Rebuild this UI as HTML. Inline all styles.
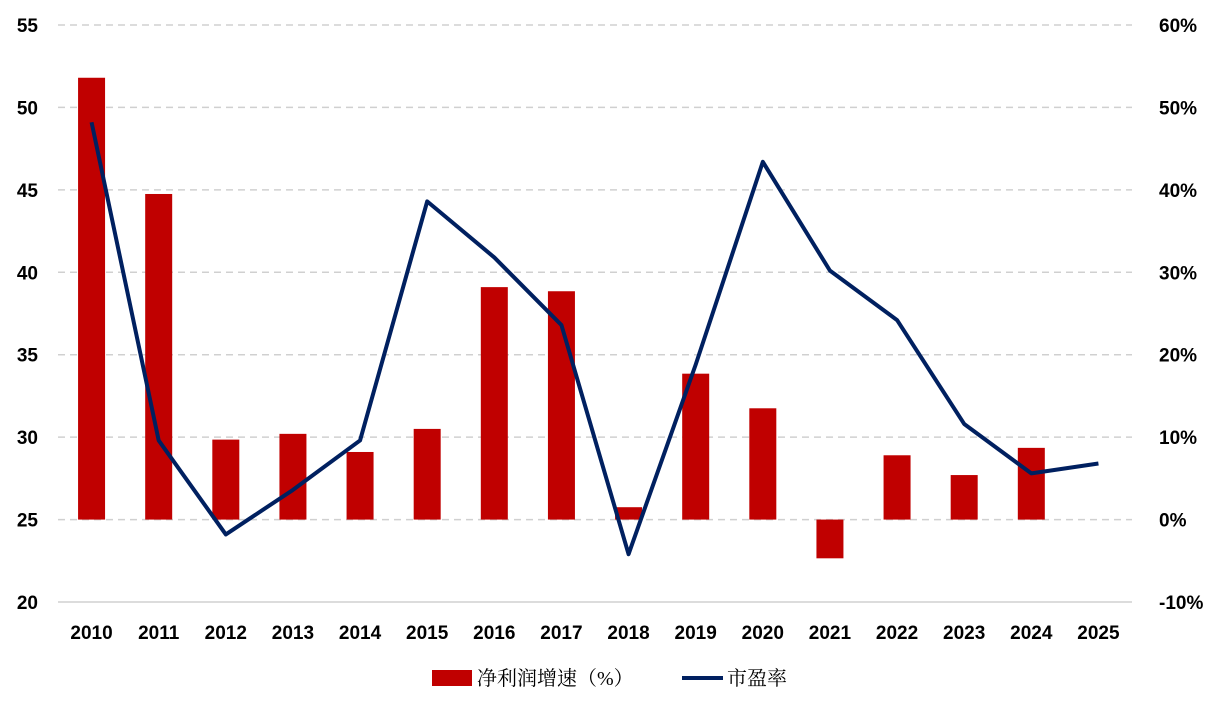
<!DOCTYPE html>
<html><head><meta charset="utf-8"><style>
body{margin:0;background:#fff;width:1220px;height:711px;overflow:hidden}
svg text{font-family:"Liberation Sans","DejaVu Sans",sans-serif;font-weight:bold;font-size:19px;fill:#000}
</style></head><body>
<svg id="chart" width="1220" height="711" xmlns="http://www.w3.org/2000/svg">
<g id="grid"></g>
<g id="bars"></g>
<g id="line"></g>
<g id="axes"></g>
<g>
<rect x="432" y="670" width="40" height="16" fill="#C00000"/>
<text x="477" y="685" style="font-family:'Liberation Serif','Noto Serif CJK SC',serif;font-weight:normal;font-size:20px">净利润增速（%）</text>
<line x1="682" y1="678" x2="723" y2="678" stroke="#002060" stroke-width="4"/>
<text x="727" y="685" style="font-family:'Liberation Serif','Noto Serif CJK SC',serif;font-weight:normal;font-size:20px">市盈率</text>
</g>
</svg>
<script>
const categories=["2010","2011","2012","2013","2014","2015","2016","2017","2018","2019","2020","2021","2022","2023","2024","2025"];
const growth=[53.6,39.5,9.7,10.4,8.2,11.0,28.2,27.7,1.5,17.7,13.5,-4.7,7.8,5.4,8.7,null];
const pe=[49.1,29.8,24.1,26.8,29.8,44.3,40.9,36.8,22.9,34.4,46.7,40.1,37.1,30.8,27.8,28.4];
const leftTicks=[20,25,30,35,40,45,50,55];
const rightTicks=["-10%","0%","10%","20%","30%","40%","50%","60%"];
const NS="http://www.w3.org/2000/svg";
const X0=58,X1=1132,Y0=602,Y1=25;
const step=(X1-X0)/categories.length;
const xc=i=>X0+step*(i+0.5);
const yL=v=>Y0-(v-20)/35*(Y0-Y1);
const yR=v=>Y0-(v+10)/70*(Y0-Y1);
function mk(t,a,p){const e=document.createElementNS(NS,t);for(const k in a)e.setAttribute(k,a[k]);p.appendChild(e);return e;}
const grid=document.getElementById('grid'),axes=document.getElementById('axes'),bars=document.getElementById('bars'),line=document.getElementById('line');
leftTicks.forEach((v,i)=>{
 const y=yL(v);
 const g=mk('line',{x1:X0,x2:X1,y1:y,y2:y,stroke:'#d0d0d0','stroke-width':1.5,'stroke-dasharray':i==0?'':'7,5'},grid);
 
 
 const t=mk('text',{x:38,y:y+7,'text-anchor':'end'},axes);t.textContent=v;
 
 
 const r=mk('text',{x:1159,y:y+7},axes);r.textContent=rightTicks[i];
 
 
});
categories.forEach((c,i)=>{
 const t=mk('text',{x:xc(i),y:639,'text-anchor':'middle'},axes);t.textContent=c;
 
 
 if(growth[i]!=null){
  const y0=yR(0),y=yR(growth[i]);
  const b=mk('rect',{x:xc(i)-13.5,width:27,y:Math.min(y,y0),height:Math.abs(y0-y),fill:'#C00000'},bars);
  
  
 }
});
const p=mk('polyline',{points:pe.map((v,i)=>xc(i)+','+yL(v)).join(' '),fill:'none',stroke:'#002060','stroke-width':4,'stroke-linejoin':'round'},line);


</script>
</body></html>
